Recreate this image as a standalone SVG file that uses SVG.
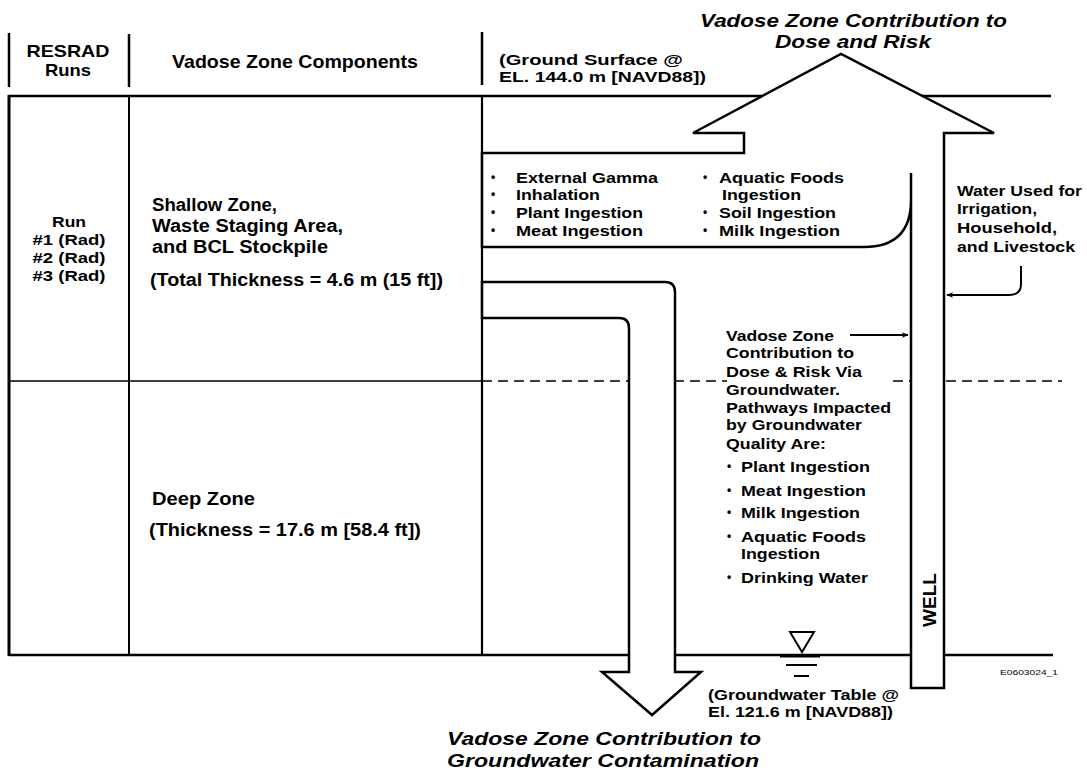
<svg xmlns="http://www.w3.org/2000/svg" width="1087" height="774" viewBox="0 0 1087 774">
<style>
text{font-family:"Liberation Sans",Arial,sans-serif;font-weight:bold;fill:#000}
.h{font-size:17px}
.w{font-size:19px}
.t{font-size:19px;font-style:italic}
.b{font-size:18px}
.p{font-size:15px}
.g{font-size:15px}
.s{font-size:15px}
.e{font-size:14px}
.r{font-size:15px}
.bu{font-size:12px}
.ln{stroke:#000;stroke-width:2.5;fill:none}
.th{stroke:#000;stroke-width:1.5;fill:none}
.sh{stroke:#000;stroke-width:2.5;fill:#fff;stroke-linejoin:miter}
.dash{stroke:#000;stroke-width:1.6;stroke-dasharray:10 6;fill:none}
.con{stroke:#000;stroke-width:2;fill:none}
</style>
<defs>
<marker id="ah" viewBox="0 0 10 10" refX="9" refY="5" markerWidth="7" markerHeight="7" orient="auto" markerUnits="userSpaceOnUse">
<path d="M0,1 L10,5 L0,9 L3,5 Z" fill="#000"/>
</marker>
</defs>
<rect width="1087" height="774" fill="#fff"/>

<g id="header">
<path class="ln" d="M9,33 V87 M129,34 V87 M482,32 V85"/>
<text class="h" x="68" y="57" text-anchor="middle" textLength="83" lengthAdjust="spacingAndGlyphs">RESRAD</text>
<text class="h" x="68" y="76" text-anchor="middle" textLength="46" lengthAdjust="spacingAndGlyphs">Runs</text>
<text class="w" x="172" y="68" textLength="246" lengthAdjust="spacingAndGlyphs">Vadose Zone Components</text>
<text class="e" x="499" y="65" textLength="184" lengthAdjust="spacingAndGlyphs">(Ground Surface @</text>
<text class="e" x="499" y="82" textLength="207" lengthAdjust="spacingAndGlyphs">EL. 144.0 m [NAVD88])</text>
</g>

<g id="table">
<path class="ln" d="M9,96 H1051"/>
<path class="ln" d="M9,655 H1053"/>
<path class="ln" d="M9,95 V656" style="stroke-width:3"/>
<path class="th" d="M129,96 V655" style="stroke-width:2"/>
<path class="th" d="M9,381 H482"/>
<path class="ln" d="M482,96 V656" style="stroke-width:2.2"/>
<path class="dash" d="M482,381 H727 M893,381 H911 M946,381 H1062"/>
</g>

<g id="runs">
<text class="r" x="69" y="227" text-anchor="middle" textLength="34" lengthAdjust="spacingAndGlyphs">Run</text>
<text class="r" x="69" y="245" text-anchor="middle" textLength="73" lengthAdjust="spacingAndGlyphs">#1 (Rad)</text>
<text class="r" x="69" y="263" text-anchor="middle" textLength="73" lengthAdjust="spacingAndGlyphs">#2 (Rad)</text>
<text class="r" x="69" y="281" text-anchor="middle" textLength="73" lengthAdjust="spacingAndGlyphs">#3 (Rad)</text>
</g>

<g id="shallow-zone">
<text class="b" x="152" y="211" textLength="125" lengthAdjust="spacingAndGlyphs">Shallow Zone,</text>
<text class="b" x="152" y="232" textLength="191" lengthAdjust="spacingAndGlyphs">Waste Staging Area,</text>
<text class="b" x="152" y="253" textLength="176" lengthAdjust="spacingAndGlyphs">and BCL Stockpile</text>
<text class="b" x="150" y="286" textLength="293" lengthAdjust="spacingAndGlyphs">(Total Thickness = 4.6 m (15 ft])</text>
</g>

<g id="deep-zone">
<text class="b" x="152" y="505" textLength="103" lengthAdjust="spacingAndGlyphs">Deep Zone</text>
<text class="b" x="149" y="536" textLength="272" lengthAdjust="spacingAndGlyphs">(Thickness = 17.6 m [58.4 ft])</text>
</g>

<g id="down-arrow">
<path class="sh" d="M482,282 H665 Q675,282 675,292 V672 H701 L652,715 L602,672 H629 V328 Q629,318 619,318 H482 Z"/>
<text class="t" x="447" y="745" textLength="314" lengthAdjust="spacingAndGlyphs">Vadose Zone Contribution to</text>
<text class="t" x="447" y="767" textLength="312" lengthAdjust="spacingAndGlyphs">Groundwater Contamination</text>
</g>

<g id="up-arrow">
<path class="sh" d="M482,153 H744 V133 H693 L841,54 L994,133 H944 V688 H911 V200 Q911,247 864,247 H482 Z"/>
<text class="t" x="700" y="27" textLength="307" lengthAdjust="spacingAndGlyphs">Vadose Zone Contribution to</text>
<text class="t" x="775" y="48" textLength="156" lengthAdjust="spacingAndGlyphs">Dose and Risk</text>
</g>

<g id="well">
<path class="ln" d="M911,173 V200"/>
<text class="w" transform="translate(936,600) rotate(-90)" text-anchor="middle" textLength="54" lengthAdjust="spacingAndGlyphs">WELL</text>
</g>

<g id="surface-pathways">
<text class="bu" x="491" y="181">•</text>
<text class="bu" x="491" y="198">•</text>
<text class="bu" x="491" y="216">•</text>
<text class="bu" x="491" y="234">•</text>
<text class="p" x="516" y="183" textLength="142" lengthAdjust="spacingAndGlyphs">External Gamma</text>
<text class="p" x="516" y="200" textLength="84" lengthAdjust="spacingAndGlyphs">Inhalation</text>
<text class="p" x="516" y="218" textLength="127" lengthAdjust="spacingAndGlyphs">Plant Ingestion</text>
<text class="p" x="516" y="236" textLength="127" lengthAdjust="spacingAndGlyphs">Meat Ingestion</text>
<text class="bu" x="703" y="181">•</text>
<text class="bu" x="703" y="216">•</text>
<text class="bu" x="703" y="234">•</text>
<text class="p" x="719" y="183" textLength="125" lengthAdjust="spacingAndGlyphs">Aquatic Foods</text>
<text class="p" x="722" y="200" textLength="79" lengthAdjust="spacingAndGlyphs">Ingestion</text>
<text class="p" x="719" y="218" textLength="117" lengthAdjust="spacingAndGlyphs">Soil Ingestion</text>
<text class="p" x="719" y="236" textLength="121" lengthAdjust="spacingAndGlyphs">Milk Ingestion</text>
</g>

<g id="groundwater-pathways">
<text class="g" x="726" y="341" textLength="108" lengthAdjust="spacingAndGlyphs">Vadose Zone</text>
<text class="g" x="726" y="358" textLength="128" lengthAdjust="spacingAndGlyphs">Contribution to</text>
<text class="g" x="726" y="377" textLength="136" lengthAdjust="spacingAndGlyphs">Dose &amp; Risk Via</text>
<text class="g" x="726" y="395" textLength="114" lengthAdjust="spacingAndGlyphs">Groundwater.</text>
<text class="g" x="726" y="413" textLength="165" lengthAdjust="spacingAndGlyphs">Pathways Impacted</text>
<text class="g" x="726" y="430" textLength="136" lengthAdjust="spacingAndGlyphs">by Groundwater</text>
<text class="g" x="726" y="449" textLength="100" lengthAdjust="spacingAndGlyphs">Quality Are:</text>
<text class="bu" x="727" y="470">•</text>
<text class="bu" x="727" y="494">•</text>
<text class="bu" x="727" y="516">•</text>
<text class="bu" x="727" y="540">•</text>
<text class="bu" x="727" y="581">•</text>
<text class="g" x="741" y="472" textLength="129" lengthAdjust="spacingAndGlyphs">Plant Ingestion</text>
<text class="g" x="741" y="496" textLength="125" lengthAdjust="spacingAndGlyphs">Meat Ingestion</text>
<text class="g" x="741" y="518" textLength="119" lengthAdjust="spacingAndGlyphs">Milk Ingestion</text>
<text class="g" x="741" y="542" textLength="125" lengthAdjust="spacingAndGlyphs">Aquatic Foods</text>
<text class="g" x="741" y="559" textLength="79" lengthAdjust="spacingAndGlyphs">Ingestion</text>
<text class="g" x="741" y="583" textLength="127" lengthAdjust="spacingAndGlyphs">Drinking Water</text>
</g>

<g id="water-use">
<text class="s" x="957" y="196" textLength="125" lengthAdjust="spacingAndGlyphs">Water Used for</text>
<text class="s" x="957" y="214" textLength="80" lengthAdjust="spacingAndGlyphs">Irrigation,</text>
<text class="s" x="957" y="233" textLength="100" lengthAdjust="spacingAndGlyphs">Household,</text>
<text class="s" x="957" y="252" textLength="118" lengthAdjust="spacingAndGlyphs">and Livestock</text>
</g>

<g id="water-table">
<polygon points="790,632 814,632 802,652" fill="#fff" stroke="#000" stroke-width="2"/>
<path class="ln" d="M780,656 H820" style="stroke-width:3"/>
<path class="th" d="M786,665 H817 M794,676 H809" style="stroke-width:2"/>
<text class="s" x="708" y="700" textLength="191" lengthAdjust="spacingAndGlyphs">(Groundwater Table @</text>
<text class="s" x="708" y="717" textLength="185" lengthAdjust="spacingAndGlyphs">El. 121.6 m [NAVD88])</text>
</g>

<g id="connectors">
<path class="con" d="M850,335 H908" marker-end="url(#ah)"/>
<path class="con" d="M1021,266 V284 Q1021,295 1009,295 H947" marker-end="url(#ah)"/>
</g>

<text x="1000" y="675" style="font-size:8px;font-weight:normal" textLength="58" lengthAdjust="spacingAndGlyphs">E0603024_1</text>
</svg>
